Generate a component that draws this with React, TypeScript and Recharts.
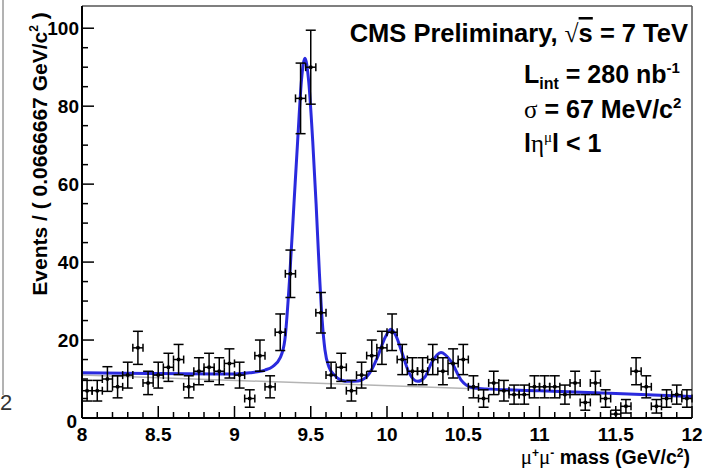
import React from "react";
import {
  ComposedChart,
  Scatter,
  Line,
  XAxis,
  YAxis,
  ErrorBar,
  ReferenceLine,
} from "recharts";

// events per 0.0667 GeV bin, 8 -> 12 GeV
const BIN_LOW = 8;
const BIN_WIDTH = 0.0666667;
const COUNTS = [
  7, 7, 10, 8, 11, 18, 9, 11, 13, 15,
  8, 12, 13, 12, 14, 11, 5, 16, 8, 22,
  37, 82, 90, 27, 11, 13, 7, 11, 16, 18,
  22, 15, 12, 12, 15, 12, 14, 15, 8, 5,
  9, 7, 6, 6, 8, 8, 8, 6, 9, 4,
  9, 5, 1, 3, 12, 8, 3, 5, 6, 5,
];

// fitted signal + background
const FIT_MASS = [
  8.0, 8.5, 9.0, 9.1, 9.2, 9.25, 9.3, 9.33, 9.36, 9.39, 9.414, 9.44, 9.462,
  9.485, 9.513, 9.535, 9.557, 9.575, 9.593, 9.62, 9.655, 9.7, 9.75, 9.81,
  9.87, 9.94, 9.98, 10.026, 10.06, 10.092, 10.146, 10.2, 10.25, 10.29,
  10.354, 10.42, 10.485, 10.55, 10.6, 11.0, 11.5, 12.0,
];
const FIT_EVENTS = [
  11.6, 11.4, 11.3, 11.6, 12.3, 13.2, 15.5, 20, 35, 55, 71, 87, 92.3,
  87, 71, 55, 37, 25, 17.5, 13, 11, 9.7, 9.4, 9.5,
  10.7, 15.8, 20, 22.8, 21, 17.5, 11.5, 9.4, 10.6, 14,
  16.8, 14.5, 9.8, 7.9, 7.6, 7.0, 6.3, 5.5,
];

// background only (grey line)
const BKG_MASS = [8, 12];
const BKG_EVENTS = [11, 5.6];

const X_MAJOR = [8, 8.5, 9, 9.5, 10, 10.5, 11, 11.5, 12];
const Y_MAJOR = [0, 20, 40, 60, 80, 100];
const Y_MAX = 105.7;

const xTicks: number[] = [];
for (let i = 0; i <= 40; i++) xTicks.push(Math.round((8 + i * 0.1) * 10) / 10);
const yTicks: number[] = [];
for (let v = 0; v <= 100; v += 5) yTicks.push(v);

const points = COUNTS.map((n, i) => ({
  x: BIN_LOW + (i + 0.5) * BIN_WIDTH,
  y: n,
  ey: Math.sqrt(n),
  ex: BIN_WIDTH / 2,
}));
const fit = FIT_MASS.map((m, i) => ({ x: m, y: FIT_EVENTS[i] }));
const bkg = BKG_MASS.map((m, i) => ({ x: m, y: BKG_EVENTS[i] }));

const W = 716;
const H = 468;
const PLOT_LEFT = 82;
const PLOT_BOTTOM = 418;
const FONT = "'Liberation Sans', Arial, sans-serif";
const SERIF = "'Liberation Serif', 'Times New Roman', serif";

const isMajorX = (v: number) => X_MAJOR.some((m) => Math.abs(m - v) < 1e-6);

function XTick({ x, payload }: any) {
  const v = payload.value as number;
  const major = isMajorX(v);
  return (
    <g>
      <line
        x1={x}
        x2={x}
        y1={PLOT_BOTTOM}
        y2={PLOT_BOTTOM - (major ? 12 : 6)}
        stroke="#000"
        strokeWidth={1.5}
      />
      {major && (
        <text
          x={x}
          y={PLOT_BOTTOM + 23}
          textAnchor="middle"
          fontFamily={FONT}
          fontWeight="bold"
          fontSize={19}
          fill="#000"
        >
          {String(v)}
        </text>
      )}
    </g>
  );
}

function YTick({ y, payload }: any) {
  const v = payload.value as number;
  const major = Y_MAJOR.includes(v);
  return (
    <g>
      <line
        x1={PLOT_LEFT}
        x2={PLOT_LEFT + (major ? 12 : 6)}
        y1={y}
        y2={y}
        stroke="#000"
        strokeWidth={1.5}
      />
      {major && (
        <text
          x={v === 0 ? 77 : 79}
          y={y + (v === 0 ? 10 : 7)}
          textAnchor="end"
          fontFamily={FONT}
          fontWeight="bold"
          fontSize={19}
          fill="#000"
        >
          {v}
        </text>
      )}
    </g>
  );
}

const Dot = (props: any) => <circle cx={props.cx} cy={props.cy} r={2} fill="#000" />;

export default function App() {
  return (
    <div
      style={{
        position: "absolute",
        left: 0,
        top: 0,
        width: W,
        height: H,
        background: "#fff",
      }}
    >
      <ComposedChart
        width={W}
        height={H}
        margin={{ top: 6, right: 24, bottom: 0, left: 0 }}
      >
        <XAxis
          type="number"
          dataKey="x"
          domain={[8, 12]}
          ticks={xTicks}
          interval={0}
          allowDataOverflow
          height={50}
          axisLine={{ stroke: "#000", strokeWidth: 2 }}
          tickLine={false}
          tick={<XTick />}
        />
        <YAxis
          type="number"
          dataKey="y"
          domain={[0, Y_MAX]}
          ticks={yTicks}
          interval={0}
          allowDataOverflow
          width={82}
          axisLine={{ stroke: "#000", strokeWidth: 2 }}
          tickLine={false}
          tick={<YTick />}
        />
        <ReferenceLine y={Y_MAX} stroke="#555" strokeWidth={1.5} />
        <ReferenceLine x={12} stroke="#555" strokeWidth={1.5} />
        <Line
          data={bkg}
          dataKey="y"
          type="linear"
          stroke="#b4b4b4"
          strokeWidth={1.5}
          dot={false}
          isAnimationActive={false}
        />
        <Line
          data={fit}
          dataKey="y"
          type="monotone"
          stroke="#2a2ade"
          strokeWidth={3}
          dot={false}
          isAnimationActive={false}
        />
        <Scatter data={points} dataKey="y" shape={<Dot />} isAnimationActive={false}>
          <ErrorBar dataKey="ey" direction="y" width={5} stroke="#000" strokeWidth={1.5} />
          <ErrorBar dataKey="ex" direction="x" width={4} stroke="#000" strokeWidth={1.5} />
        </Scatter>
      </ComposedChart>

      <svg
        width={W}
        height={H}
        style={{ position: "absolute", left: 0, top: 0, pointerEvents: "none" }}
      >
        {/* sliver of the neighbouring panel */}
        <line x1={3} x2={3} y1={0} y2={395} stroke="#666" strokeWidth={1} />
        <text x={0} y={410} fontFamily={FONT} fontSize={22} fill="#333">
          2
        </text>

        {/* y title */}
        <text
          transform="translate(47, 154) rotate(-90)"
          textAnchor="middle"
          fontFamily={FONT}
          fontWeight="bold"
          fontSize={21}
          fill="#000"
        >
          Events / ( 0.0666667 GeV/c
          <tspan fontSize={12} dy={-9}>2</tspan>
          <tspan dy={9}> )</tspan>
        </text>

        {/* x title */}
        <text
          x={690}
          y={464}
          textAnchor="end"
          fontFamily={FONT}
          fontWeight="bold"
          fontSize={19.5}
          fill="#000"
        >
          <tspan fontFamily={SERIF} fontWeight="normal" fontSize={21}>μ</tspan>
          <tspan fontSize={12} dy={-7}>+</tspan>
          <tspan fontFamily={SERIF} fontWeight="normal" fontSize={21} dy={7}>μ</tspan>
          <tspan fontSize={12} dy={-7}>-</tspan>
          <tspan dy={7}> mass (GeV/c</tspan>
          <tspan fontSize={12} dy={-7}>2</tspan>
          <tspan dy={7}>)</tspan>
        </text>

        {/* annotations */}
        <text x={688} y={42} textAnchor="end" fontFamily={FONT} fontWeight="bold" fontSize={25.5} fill="#000">
          CMS Preliminary, <tspan fontFamily={SERIF} fontWeight="normal">√</tspan>
          <tspan textDecoration="overline">s</tspan> = 7 TeV
        </text>
        <text x={524} y={83} fontFamily={FONT} fontWeight="bold" fontSize={25} fill="#000">
          L<tspan fontSize={16} dy={6}>int</tspan>
          <tspan dy={-6}> = 280 nb</tspan>
          <tspan fontSize={15} dy={-10}>-1</tspan>
        </text>
        <text x={524} y={118} fontFamily={FONT} fontWeight="bold" fontSize={25} fill="#000">
          <tspan fontFamily={SERIF} fontWeight="normal">σ</tspan> = 67 MeV/c
          <tspan fontSize={15} dy={-10}>2</tspan>
        </text>
        <text x={524} y={152} fontFamily={FONT} fontWeight="bold" fontSize={25} fill="#000">
          l<tspan fontFamily={SERIF} fontWeight="normal">η</tspan>
          <tspan fontFamily={SERIF} fontWeight="normal" fontSize={15} dy={-10}>μ</tspan>
          <tspan dy={10}>l &lt; 1</tspan>
        </text>
      </svg>
    </div>
  );
}
